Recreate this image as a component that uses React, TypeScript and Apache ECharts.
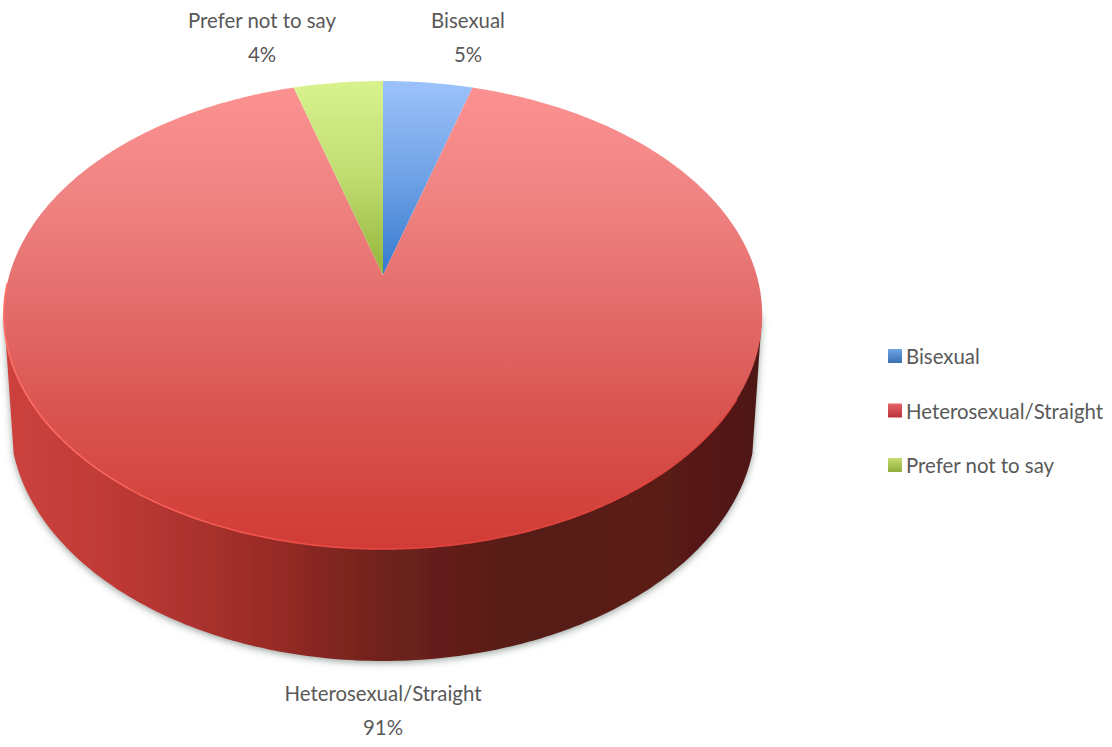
import React, { useEffect, useRef } from "react";
import * as echarts from "echarts";

const categories = ["Bisexual", "Heterosexual/Straight", "Prefer not to say"];
const values = [4.5, 91.01, 4.49];
const percentLabels = ["5%", "91%", "4%"];
const topStops = [
  [[0, "#9cc2fa"], [0.5, "#6fa2e6"], [1, "#357ace"]],
  [[0, "#fd9292"], [0.25, "#ef8382"], [0.5, "#e26a68"], [0.72, "#d9534f"], [1, "#d13b35"]],
  [[0, "#d8f28e"], [0.5, "#c0dc70"], [1, "#93b53a"]],
];
const legendTop = ["#6ea3e4", "#e8666a", "#c6dc70"];
const legendBottom = ["#3a6fb4", "#b8323a", "#8fae3c"];
const labelAnchors = [
  [468, 37],
  [383, 710],
  [262, 37],
];
const wallStops = [
  [0, "#cc423e"], [0.14, "#bf3a36"], [0.35, "#992b26"], [0.5, "#6f221c"],
  [0.68, "#561a17"], [0.85, "#5c1b18"], [1, "#4f1615"],
];

const CX = 383, TOP = 81, APEX = 275, BOTTOM = 549, K = 373.6;
const C = 80 / 468;
const A = TOP * (C + 1) - APEX;
const project = (deg: number) => {
  const t = (deg * Math.PI) / 180;
  const u = Math.sin(t), v = Math.cos(t);
  const d = C * v + 1;
  return [CX + (K * u) / d, (A * v + APEX) / d];
};
const BASE_CY = 420, BASE_RX = 373, BASE_RY = 241;
const total = values.reduce((a, b) => a + b, 0);
const FONT = "Lato, sans-serif";
const FONT_SIZE = 20.4;
const grad = (x: number, y: number, x2: number, y2: number, stops: any[]) =>
  new echarts.graphic.LinearGradient(
    x, y, x2, y2,
    stops.map((s: any) => ({ offset: s[0], color: s[1] })),
    true
  );

const arcPoints = (from: number, to: number) => {
  const pts: number[][] = [];
  const n = Math.max(2, Math.ceil(Math.abs(to - from) * 2));
  for (let i = 0; i <= n; i++) pts.push(project(from + ((to - from) * i) / n));
  return pts;
};

const wallPoints = () => {
  const pts: number[][] = [[CX + 379, 315]];
  for (let d = 8; d <= 172; d += 1) {
    const t = (d * Math.PI) / 180;
    pts.push([CX + BASE_RX * Math.cos(t), BASE_CY + BASE_RY * Math.sin(t)]);
  }
  pts.push([CX - 379, 315]);
  return pts;
};

const makeSeries = (idx: number) => {
  const start = (values.slice(0, idx).reduce((a, b) => a + b, 0) / total) * 360;
  const end = start + (values[idx] / total) * 360;
  return {
    type: "custom",
    name: categories[idx],
    coordinateSystem: "none",
    silent: true,
    data: [values[idx]],
    renderItem: () => {
      const children: any[] = [];
      if (idx === 1) {
        children.push({
          type: "polygon",
          shape: { points: wallPoints() },
          style: {
            fill: grad(4, 0, 762, 0, wallStops),
            shadowBlur: 7,
            shadowColor: "rgba(70,90,80,0.55)",
            shadowOffsetY: 2,
          },
        });
      }
      children.push({
        type: "polygon",
        shape: { points: [[CX, APEX], ...arcPoints(start, end)] },
        style: { fill: grad(0, TOP, 0, idx === 1 ? BOTTOM : APEX, topStops[idx]) },
      });
      if (idx === 1) {
        children.push({
          type: "polyline",
          shape: { points: arcPoints(120, 268) },
          style: {
            fill: "none",
            lineWidth: 1.6,
            stroke: grad(4, 0, 420, 0, [[0, "#ff7068"], [0.6, "#f2554e"], [1, "#e0443e"]]),
          },
        });
      }
      children.push({
        type: "text",
        style: {
          x: labelAnchors[idx][0],
          y: labelAnchors[idx][1],
          text: `${categories[idx]}\n${percentLabels[idx]}`,
          align: "center",
          verticalAlign: "middle",
          fontFamily: FONT,
          fontSize: FONT_SIZE,
          lineHeight: 34,
          fill: "#595959",
        },
      });
      return { type: "group", children };
    },
  };
};

export default function App() {
  const ref = useRef<HTMLDivElement>(null);
  useEffect(() => {
    const chart = echarts.init(ref.current!, undefined, { renderer: "svg" });
    chart.setOption({
      animation: false,
      backgroundColor: "#ffffff",
      legend: {
        orient: "vertical",
        left: 883,
        top: 338,
        itemWidth: 14,
        itemHeight: 14,
        itemGap: 28.5,
        icon: "rect",
        textStyle: { fontFamily: FONT, fontSize: FONT_SIZE, color: "#595959", padding: [0, 0, 0, -1], lineHeight: 26 },
        data: categories.map((name, i) => ({
          name,
          icon: "rect",
          itemStyle: {
            color: new echarts.graphic.LinearGradient(0, 0, 0, 1, [
              { offset: 0, color: legendTop[i] },
              { offset: 1, color: legendBottom[i] },
            ]),
          },
        })),
      },
      series: categories.map((_, i) => makeSeries(i)),
    });
    return () => chart.dispose();
  }, []);
  return (
    <div
      ref={ref}
      style={{ position: "fixed", left: 0, top: 0, width: 1112, height: 747 }}
    />
  );
}
